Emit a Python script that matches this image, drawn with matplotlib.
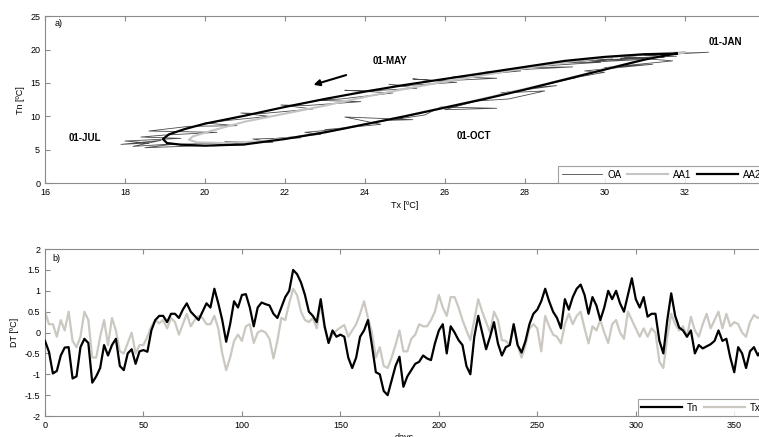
import matplotlib.pyplot as plt
import matplotlib as mpl
import numpy as np

mpl.rcParams.update({
    'font.size': 6.5,
    'font.family': 'sans-serif',
    'font.sans-serif': ['Liberation Sans', 'DejaVu Sans'],
    'axes.edgecolor': '#8a8a8a',
    'axes.linewidth': 0.8,
    'xtick.direction': 'in',
    'ytick.direction': 'in',
    'xtick.top': True,
    'ytick.right': True,
    'xtick.major.size': 3.5,
    'ytick.major.size': 3.5,
    'xtick.color': '#8a8a8a',
    'ytick.color': '#8a8a8a',
    'xtick.labelcolor': 'black',
    'ytick.labelcolor': 'black',
})

##########################################################
# panel a) annual cycle Tx vs Tn

# observed (OA)
oa_tx = [31.2, 32.6, 31.0, 31.8, 30.4, 31.5, 29.8, 30.9, 29.6, 30.2, 28.9, 29.9, 28.6, 28.0, 29.2,
         27.6, 27.0, 27.9, 26.8, 26.2, 27.3, 25.9, 25.2, 26.3, 25.0, 24.6, 25.3, 24.1, 23.5, 24.7,
         23.4, 22.8, 23.9, 22.5, 21.9, 22.7, 21.4, 20.9, 21.6, 20.6, 20.0, 20.8, 19.6, 18.6, 20.3,
         19.0, 18.4, 19.4, 18.0, 18.6, 17.9, 18.9, 18.2, 19.3, 18.5,
         19.9, 19.2, 20.6, 20.2, 21.0, 20.5, 21.7, 21.2, 22.4, 21.8, 22.9, 22.5, 23.6, 23.0, 24.4,
         23.5, 25.2, 24.6, 25.5, 25.9, 27.3, 26.0, 26.8, 27.6, 28.5, 27.4, 28.8, 28.2, 29.3, 28.9,
         30.0, 29.5, 31.2, 30.0, 31.7, 30.5, 31.2]
oa_tn = [19.3, 19.6, 19.1, 19.0, 18.7, 18.9, 18.4, 18.5, 18.1, 18.6, 18.0, 18.1, 17.6, 17.3, 17.4,
         16.9, 16.6, 16.8, 16.2, 15.9, 15.7, 15.3, 15.6, 15.1, 14.6, 14.8, 14.2, 13.8, 13.9, 13.5,
         12.6, 12.4, 12.2, 11.6, 11.7, 11.1, 10.4, 10.5, 10.0, 9.4, 9.0, 8.6, 8.5, 7.8, 7.6,
         7.2, 6.9, 6.7, 6.3, 6.0, 5.8, 6.4, 5.5, 5.9, 5.3,
         5.6, 5.8, 6.0, 5.6, 5.7, 6.2, 6.1, 6.6, 6.8, 6.7, 7.3, 7.6, 8.2, 8.0, 8.8,
         9.9, 9.5, 9.4, 10.2, 11.4, 11.2, 11.0, 12.3, 12.6, 13.8, 13.5, 14.6, 14.3, 15.8, 15.4,
         16.6, 16.8, 17.8, 17.3, 18.3, 18.9, 19.3]

# first averaged cycle (AA1)
aa1_tx = [32.0, 31.0, 30.0, 29.0, 28.0, 27.0, 26.0, 25.0, 24.0, 23.0, 22.0, 21.0, 20.2, 19.7, 19.6,
          19.8, 20.5, 21.5, 22.5, 23.5, 24.5, 25.5, 26.5, 27.5, 28.5, 29.5, 30.5, 31.3, 32.0]
aa1_tn = [19.6, 19.3, 18.8, 18.1, 17.2, 16.2, 15.2, 14.1, 12.9, 11.6, 10.4, 9.2, 7.9, 7.0, 6.5,
          6.1, 6.0, 6.3, 7.1, 8.2, 9.4, 10.7, 12.0, 13.4, 14.8, 16.3, 17.8, 18.9, 19.6]

# second averaged cycle (AA2)
aa2_tx = [31.8, 31.0, 30.0, 29.0, 28.0, 27.0, 26.0, 25.0, 24.0, 23.0, 22.0, 21.0, 20.0, 19.5, 19.1,
          18.95, 19.05, 19.4, 20.0, 21.0, 22.0, 23.0, 24.0, 25.0, 26.0, 27.0, 28.0, 29.0, 30.0, 31.0,
          31.6, 31.8]
aa2_tn = [19.4, 19.3, 18.9, 18.3, 17.4, 16.5, 15.6, 14.7, 13.7, 12.6, 11.4, 10.1, 8.9, 8.1, 7.3,
          6.6, 6.0, 5.75, 5.6, 5.8, 6.6, 7.6, 8.8, 10.0, 11.3, 12.6, 14.0, 15.5, 17.0, 18.5,
          19.2, 19.4]

##########################################################
# panel b) daily anomalies, every second day
days = list(range(0, 365, 2))
dt_tn = [-0.2, -0.46, -0.98, -0.92, -0.55, -0.36, -0.35, -1.1, -1.05, -0.35,
         -0.15, -0.25, -1.2, -1.05, -0.85, -0.3, -0.55, -0.3, -0.15, -0.8,
         -0.9, -0.5, -0.4, -0.75, -0.45, -0.42, -0.46, 0.05, 0.3, 0.4,
         0.4, 0.25, 0.45, 0.45, 0.35, 0.55, 0.7, 0.5, 0.4, 0.3,
         0.5, 0.7, 0.6, 1.05, 0.7, 0.3, -0.22, 0.2, 0.75, 0.6,
         0.9, 0.92, 0.6, 0.15, 0.6, 0.72, 0.68, 0.65, 0.45, 0.35,
         0.6, 0.85, 1.0, 1.5, 1.4, 1.2, 0.9, 0.5, 0.4, 0.25,
         0.8, 0.15, -0.25, 0.05, -0.1, -0.05, -0.1, -0.6, -0.85, -0.6,
         -0.1, 0.05, 0.3, -0.3, -0.95, -1.0, -1.4, -1.5, -1.15, -0.8,
         -0.58, -1.3, -1.05, -0.9, -0.75, -0.7, -0.55, -0.62, -0.66, -0.26,
         0.05, 0.2, -0.5, 0.15, 0.0, -0.18, -0.3, -0.8, -1.0, -0.1,
         0.4, 0.0, -0.4, -0.1, 0.25, -0.26, -0.55, -0.35, -0.3, 0.2,
         -0.3, -0.48, -0.2, 0.2, 0.45, 0.55, 0.75, 1.05, 0.75, 0.5,
         0.35, 0.1, 0.8, 0.55, 0.85, 1.05, 1.15, 0.9, 0.45, 0.85,
         0.65, 0.3, 0.6, 1.0, 0.8, 1.0, 0.7, 0.5, 0.9, 1.3,
         0.8, 0.6, 0.85, 0.38, 0.45, 0.45, -0.2, -0.5, 0.3, 0.94,
         0.4, 0.12, 0.05, -0.1, 0.05, -0.5, -0.3, -0.38, -0.33, -0.28,
         -0.2, 0.05, -0.2, -0.15, -0.6, -0.95, -0.35, -0.5, -0.85, -0.45,
         -0.35, -0.55, -0.4]
dt_tx = [0.5, 0.2, 0.2, -0.1, 0.3, 0.05, 0.5, -0.2, -0.35, -0.1,
         0.5, 0.3, -0.6, -0.6, -0.1, 0.3, -0.3, 0.35, 0.05, -0.45,
         -0.5, -0.25, 0.0, -0.5, -0.3, -0.3, -0.1, 0.15, 0.3, 0.22,
         0.3, 0.1, 0.35, 0.25, -0.05, 0.2, 0.45, 0.15, 0.3, 0.4,
         0.35, 0.2, 0.2, 0.4, 0.1, -0.5, -0.9, -0.6, -0.2, -0.05,
         -0.2, 0.15, 0.2, -0.25, 0.0, 0.05, 0.0, -0.15, -0.62, -0.2,
         0.35, 0.3, 0.7, 1.05, 0.9, 0.5, 0.3, 0.25, 0.35, 0.1,
         0.7, 0.1, -0.25, -0.05, 0.05, 0.12, 0.18, -0.1, 0.05, 0.2,
         0.45, 0.75, 0.35, 0.0, -0.6, -0.35, -0.8, -0.85, -0.6, -0.3,
         0.05, -0.45, -0.45, -0.15, -0.05, 0.2, 0.15, 0.15, 0.3, 0.5,
         0.9, 0.6, 0.4, 0.85, 0.85, 0.6, 0.3, 0.05, -0.18, 0.3,
         0.8, 0.5, 0.25, 0.0, 0.5, 0.3, -0.18, -0.2, -0.3, 0.2,
         -0.3, -0.6, -0.3, 0.1, 0.2, 0.1, -0.45, 0.4, 0.15, -0.05,
         -0.1, -0.26, 0.2, 0.45, 0.2, 0.4, 0.5, 0.1, -0.26, 0.15,
         0.05, 0.3, 0.0, -0.25, 0.2, 0.3, 0.0, -0.15, 0.5, 0.3,
         0.1, -0.1, 0.1, -0.1, 0.1, 0.0, -0.7, -0.85, -0.1, 0.45,
         0.2, 0.05, 0.15, -0.1, 0.38, 0.05, -0.1, 0.2, 0.45, 0.1,
         0.3, 0.5, 0.1, 0.45, 0.15, 0.25, 0.2, 0.0, -0.1, 0.25,
         0.42, 0.35, 0.4]

fig = plt.figure(figsize=(7.59, 4.37), dpi=100)

# axes run a little past the right border (figure is cropped like the original)
ax1 = fig.add_axes([0.0593, 0.581, 0.948, 0.382])
ax1.plot(oa_tx, oa_tn, color='#4a4a4a', lw=0.6, label='OA')
ax1.plot(aa1_tx, aa1_tn, color='#c4c4c4', lw=1.5, label='AA1')
ax1.plot(aa2_tx, aa2_tn, color='black', lw=1.6, label='AA2')
ax1.set_xlim(16, 34)
ax1.set_ylim(0, 25)
ax1.set_xticks(np.arange(16, 34, 2))
ax1.set_yticks(np.arange(0, 26, 5))
ax1.set_xlabel('Tx [ºC]', labelpad=3)
ax1.set_ylabel('Tn [ºC]', labelpad=4)
ax1.text(16.25, 23.5, 'a)', fontsize=6.5)
for txt, x, y in [('01-JAN', 32.6, 20.7), ('01-MAY', 24.2, 17.8),
                  ('01-JUL', 16.6, 6.3), ('01-OCT', 26.3, 6.6)]:
    ax1.text(x, y, txt, fontsize=7, fontweight='bold')
ax1.annotate('', xy=(22.65, 14.6), xytext=(23.6, 16.3),
             arrowprops=dict(arrowstyle='-|>', color='black', lw=1.5, mutation_scale=9))
leg1 = ax1.legend(loc='lower right', ncol=3, frameon=True, fancybox=False,
                  borderaxespad=0.0, handlelength=4.2, columnspacing=0.6,
                  handletextpad=0.5, borderpad=0.35, fontsize=7)
leg1.get_frame().set_edgecolor('#8a8a8a')
leg1.get_frame().set_linewidth(0.8)

ax2 = fig.add_axes([0.0593, 0.048, 0.947, 0.382])
ax2.plot(days, dt_tn, color='black', lw=1.6, label='Tn', zorder=3)
ax2.plot(days, dt_tx, color='#cbc8c1', lw=1.6, label='Tx', zorder=2)
ax2.set_xlim(0, 365)
ax2.set_ylim(-2, 2)
ax2.set_xticks(np.arange(0, 365, 50))
ax2.set_yticks(np.arange(-2, 2.01, 0.5))
ax2.set_yticklabels(['-2', '-1.5', '-1', '-0.5', '0', '0.5', '1', '1.5', '2'])
ax2.set_xlabel('days', labelpad=2)
ax2.set_ylabel('DT [ºC]', labelpad=4)
ax2.text(4, 1.72, 'b)', fontsize=6.5)
leg2 = ax2.legend(loc='lower right', ncol=2, frameon=True, fancybox=False,
                  borderaxespad=0.0, handlelength=4.2, columnspacing=0.6,
                  handletextpad=0.5, borderpad=0.35, fontsize=7)
leg2.get_frame().set_edgecolor('#8a8a8a')
leg2.get_frame().set_linewidth(0.8)

plt.savefig('out.png', dpi=100)
